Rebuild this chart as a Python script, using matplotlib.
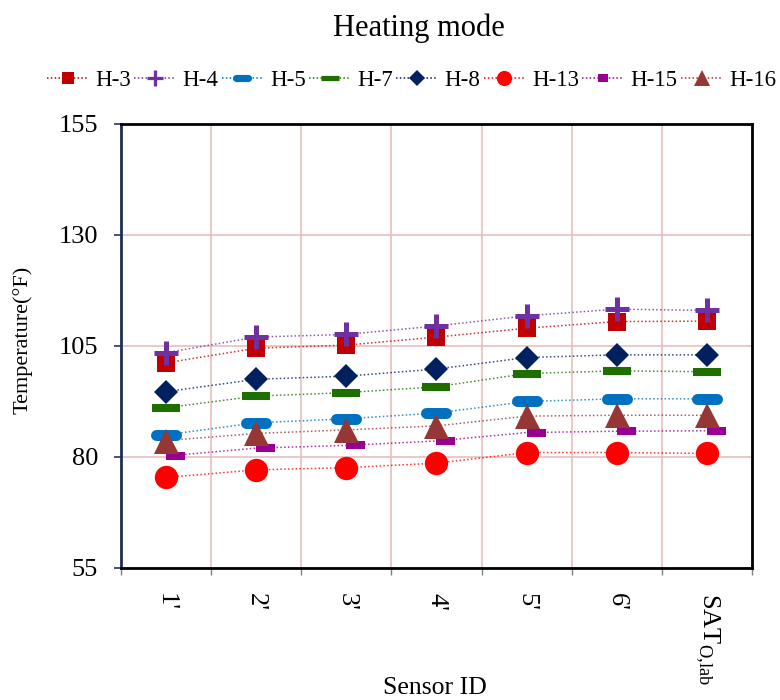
import matplotlib
matplotlib.use("Agg")
import matplotlib.pyplot as plt
from matplotlib.lines import Line2D
from matplotlib.markers import MarkerStyle
from matplotlib.path import Path
import numpy as np

# ---- data ----
sensors = ["1'", "2'", "3'", "4'", "5'", "6'", r"SAT$_{\mathregular{O{,}lab}}$"]
series_names = ["H-3", "H-4", "H-5", "H-7", "H-8", "H-13", "H-15", "H-16"]
h3 = [101.2, 104.5, 105.2, 107.0, 109.0, 110.5, 110.6]
h4 = [103.5, 107.0, 107.6, 109.5, 111.8, 113.3, 113.0]
h5 = [85.0, 87.7, 88.6, 89.9, 92.5, 93.1, 93.1]
h7 = [91.1, 93.7, 94.5, 95.8, 98.8, 99.4, 99.2]
h8 = [94.7, 97.5, 98.2, 99.8, 102.4, 103.0, 103.0]
h13 = [75.4, 77.1, 77.6, 78.6, 81.0, 81.0, 80.8]
h15 = [80.2, 82.0, 82.6, 83.6, 85.5, 85.8, 85.9]
h16 = [83.7, 85.3, 86.1, 87.0, 89.2, 89.4, 89.4]
y_ticks = [55, 80, 105, 130, 155]

plt.rcParams['font.family'] = ['Liberation Serif', 'DejaVu Serif']
plt.rcParams['mathtext.fontset'] = 'custom'
plt.rcParams['mathtext.rm'] = 'Liberation Serif'

# offset bar used for H-15 (drawn to the right of its point)
bar_right = Path([(0, -0.21), (1, -0.21), (1, 0.21), (0, 0.21), (0, -0.21)],
                 [Path.MOVETO, Path.LINETO, Path.LINETO, Path.LINETO, Path.CLOSEPOLY])
bar_small = Path([(-0.5, -0.38), (0.5, -0.38), (0.5, 0.38), (-0.5, 0.38), (-0.5, -0.38)],
                 [Path.MOVETO, Path.LINETO, Path.LINETO, Path.LINETO, Path.CLOSEPOLY])

styles = {
    "H-3":  dict(color="#C00000", marker="s", ms=13.5, mew=0),
    "H-4":  dict(color="#7030A0", marker="+", ms=17, mew=3.6),
    "H-5":  dict(color="#0070C0", marker=MarkerStyle("_", capstyle="round"), ms=13.7, mew=7.9),
    "H-7":  dict(color="#1F6E00", marker=MarkerStyle("_", capstyle="butt"), ms=20, mew=5.8),
    "H-8":  dict(color="#002060", marker="D", ms=12.7, mew=0),
    "H-13": dict(color="#FF0000", marker="o", ms=16.8, mew=0),
    "H-15": dict(color="#990092", marker=bar_right, ms=27.4, mew=0),
    "H-16": dict(color="#953735", marker="^", ms=18, mew=0),
}
values = dict(zip(series_names, [h3, h4, h5, h7, h8, h13, h15, h16]))

fig = plt.figure(figsize=(7.8, 7.0), dpi=100)
ax = fig.add_axes([0.1551, 0.1886, 0.809, 0.6343])

x = np.arange(len(sensors))
for name in series_names:
    st = styles[name]
    ax.plot(x, values[name], linestyle=(0, (1, 1.5)), linewidth=1.1,
            color=st["color"], alpha=0.8, zorder=2)
for name in series_names:
    st = styles[name]
    ax.plot(x, values[name], linestyle="none", marker=st["marker"],
            ms=st["ms"], mew=st["mew"], color=st["color"],
            mec=st["color"], mfc=st["color"], zorder=3)

ax.set_xlim(-0.5, len(sensors) - 0.5)
ax.set_ylim(55, 155)
ax.set_yticks(y_ticks)
ax.set_xticks(np.arange(len(sensors) + 1) - 0.5)
ax.set_xticklabels([])
ax.set_xticks(x, minor=True)
ax.set_xticklabels(sensors, minor=True, rotation=270, va="top", ha="center")
ax.tick_params(axis="x", which="minor", length=0, pad=18, labelsize=19)
ax.tick_params(axis="x", which="major", length=5, width=1, color="#808080", direction="out")
ax.tick_params(axis="y", length=5, width=1.2, color="#1F3864", labelsize=19, pad=11.5)

ax.grid(True, which="major", color="#E6B9B8", linewidth=1.1, zorder=0)
ax.set_axisbelow(True)

for side in ["top", "right", "bottom"]:
    ax.spines[side].set_color("black")
    ax.spines[side].set_linewidth(2)
ax.spines["left"].set_color("#1F2D4E")
ax.spines["left"].set_linewidth(2)

fig.text(23 / 780, 1 - 340 / 700, "Temperature(°F)", fontsize=16, rotation=90,
         ha="center", va="center")
fig.text(435 / 780, 1 - 688 / 700, "Sensor ID", fontsize=18.5, ha="center", va="center")
fig.text(419 / 780, 0.96, "Heating mode", fontsize=22, ha="center", va="center")

# legend handles drawn at a reduced marker scale
handles = []
k = 0.65
for name in series_names:
    st = styles[name]
    if name == "H-15":
        mk, ms = bar_small, 6.8
    else:
        mk, ms = st["marker"], st["ms"] * k
    handles.append(Line2D([], [], linestyle=(0, (1, 1.5)), linewidth=1.1,
                          color=st["color"], marker=mk,
                          ms=ms, mew=st["mew"] * k,
                          mec=st["color"], mfc=st["color"]))
fig.legend(handles, series_names, loc="center left", bbox_to_anchor=(47 / 780, 0.885),
           ncol=8, frameon=False, fontsize=16.5, handlelength=1.8,
           handletextpad=0.3, columnspacing=0.15, borderpad=0, borderaxespad=0)

fig.savefig("out.png", dpi=100)
